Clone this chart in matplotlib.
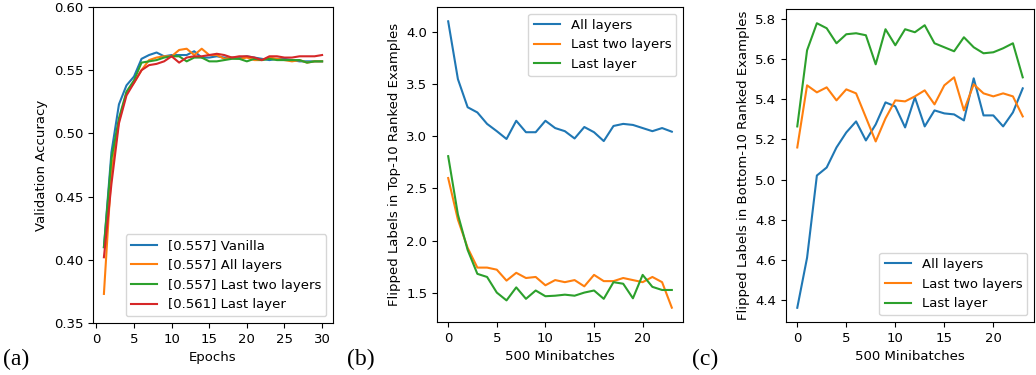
import matplotlib
matplotlib.use("Agg")
import matplotlib.pyplot as plt

# (a) validation accuracy per epoch
epochs = list(range(1, 31))
acc_vanilla = [0.410, 0.485, 0.523, 0.538, 0.545, 0.559, 0.562, 0.564, 0.561, 0.562,
               0.562, 0.562, 0.565, 0.560, 0.560, 0.561, 0.560, 0.560, 0.560, 0.561,
               0.560, 0.559, 0.558, 0.559, 0.559, 0.558, 0.557, 0.557, 0.557, 0.557]
acc_all = [0.373, 0.470, 0.510, 0.532, 0.540, 0.550, 0.558, 0.560, 0.561, 0.561,
           0.566, 0.567, 0.562, 0.567, 0.562, 0.562, 0.559, 0.560, 0.559, 0.560,
           0.558, 0.558, 0.560, 0.559, 0.558, 0.557, 0.558, 0.556, 0.557, 0.557]
acc_two = [0.410, 0.480, 0.512, 0.533, 0.542, 0.556, 0.557, 0.558, 0.560, 0.561,
           0.561, 0.557, 0.560, 0.560, 0.557, 0.557, 0.558, 0.559, 0.559, 0.557,
           0.559, 0.558, 0.559, 0.558, 0.558, 0.558, 0.558, 0.556, 0.557, 0.557]
acc_last = [0.402, 0.460, 0.508, 0.530, 0.540, 0.550, 0.554, 0.555, 0.557, 0.561,
            0.556, 0.560, 0.561, 0.561, 0.562, 0.563, 0.562, 0.560, 0.561, 0.561,
            0.560, 0.558, 0.561, 0.561, 0.560, 0.560, 0.561, 0.561, 0.561, 0.562]
acc_labels = ["[0.557] Vanilla", "[0.557] All layers",
              "[0.557] Last two layers", "[0.561] Last layer"]

# (b) / (c) flipped labels per 500 minibatches
steps = list(range(24))
top_all = [4.105, 3.55, 3.28, 3.23, 3.12, 3.05, 2.975, 3.15, 3.04, 3.04, 3.15, 3.08,
           3.05, 2.98, 3.09, 3.04, 2.955, 3.10, 3.12, 3.11, 3.08, 3.05, 3.08, 3.045]
top_two = [2.60, 2.20, 1.93, 1.74, 1.74, 1.72, 1.615, 1.69, 1.64, 1.65, 1.57, 1.62,
           1.60, 1.62, 1.56, 1.67, 1.61, 1.61, 1.64, 1.62, 1.60, 1.65, 1.60, 1.355]
top_last = [2.81, 2.25, 1.91, 1.68, 1.65, 1.50, 1.425, 1.55, 1.44, 1.52, 1.465, 1.47,
            1.48, 1.47, 1.50, 1.52, 1.44, 1.60, 1.585, 1.445, 1.67, 1.555, 1.525, 1.525]

bot_all = [4.36, 4.61, 5.02, 5.06, 5.16, 5.235, 5.29, 5.195, 5.275, 5.385, 5.365, 5.26,
           5.41, 5.265, 5.345, 5.33, 5.325, 5.295, 5.505, 5.32, 5.32, 5.265, 5.335, 5.455]
bot_two = [5.16, 5.47, 5.435, 5.46, 5.395, 5.45, 5.43, 5.31, 5.19, 5.305, 5.395, 5.39,
           5.415, 5.445, 5.375, 5.47, 5.51, 5.345, 5.475, 5.43, 5.415, 5.43, 5.415, 5.315]
bot_last = [5.265, 5.645, 5.78, 5.755, 5.68, 5.725, 5.73, 5.72, 5.575, 5.75, 5.67, 5.75,
            5.735, 5.77, 5.68, 5.66, 5.64, 5.71, 5.66, 5.63, 5.635, 5.655, 5.68, 5.51]
flip_labels = ["All layers", "Last two layers", "Last layer"]

plt.rcParams["font.size"] = 9.5

fig = plt.figure(figsize=(10.36, 3.75), dpi=100)
W, H = 1036, 375
axa = fig.add_axes([93 / W, 1 - 323 / H, 240 / W, 316 / H])
axb = fig.add_axes([437 / W, 1 - 322 / H, 246 / W, 315 / H])
axc = fig.add_axes([786 / W, 1 - 322 / H, 248 / W, 313 / H])

for ys, lab in zip([acc_vanilla, acc_all, acc_two, acc_last], acc_labels):
    axa.plot(epochs, ys, label=lab)
axa.set_ylim(0.35, 0.60)
axa.set_xticks([0, 5, 10, 15, 20, 25, 30])
axa.set_xlabel("Epochs")
axa.set_ylabel("Validation Accuracy")
axa.legend(loc="lower right")

for ys, lab in zip([top_all, top_two, top_last], flip_labels):
    axb.plot(steps, ys, label=lab)
axb.set_xlabel("500 Minibatches")
axb.set_ylabel("Flipped Labels in Top-10 Ranked Examples")
axb.legend(loc="upper right")

for ys, lab in zip([bot_all, bot_two, bot_last], flip_labels):
    axc.plot(steps, ys, label=lab)
axc.set_xlabel("500 Minibatches")
axc.set_ylabel("Flipped Labels in Bottom-10 Ranked Examples")
axc.legend(loc="lower right")

for x, t in [(3, "(a)"), (347, "(b)"), (692, "(c)")]:
    fig.text(x / W, 1 - 365 / H, t, family="Liberation Serif", fontsize=17)

fig.savefig("out.png", dpi=100)
